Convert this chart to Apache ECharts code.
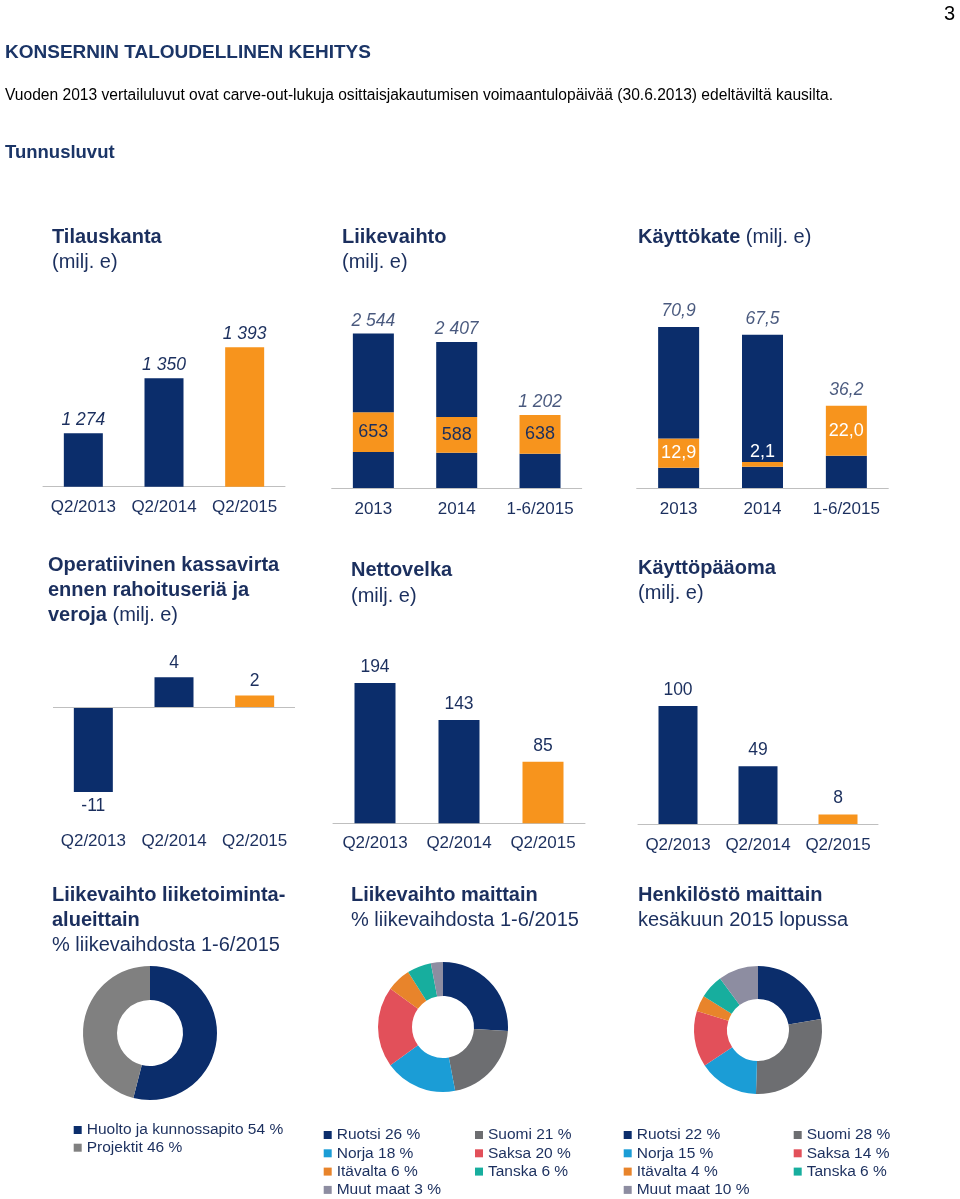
<!DOCTYPE html>
<html>
<head>
<meta charset="utf-8">
<script src="https://cdn.jsdelivr.net/npm/echarts@6/dist/echarts.min.js"></script>
<style>
  html, body { margin: 0; padding: 0; background: #fff; }
  #chart { width: 960px; height: 1199px; }
</style>
</head>
<body>
<div id="chart"></div>
<script>
// ---------- DATA ----------
const quarterCats = ['Q2/2013', 'Q2/2014', 'Q2/2015'];
const yearCats = ['2013', '2014', '1-6/2015'];

const tilauskanta = [1274, 1350, 1393];

const liikevaihtoTotal = [2544, 2407, 1202];
const liikevaihtoQ2 = [653, 588, 638];
const liikevaihtoQ1 = [595, 580, 564];

const kayttokateTotal = [70.9, 67.5, 36.2];
const kayttokateQ2 = [12.9, 2.1, 22.0];
const kayttokateQ1 = [8.9, 9.4, 14.2];

const kassavirta = [-11.1, 4.0, 1.6];
const nettovelka = [194, 143, 85];
const kayttopaaoma = [100, 49, 8];

const segNames = ['Huolto ja kunnossapito', 'Projektit'];
const segValues = [54, 46];

const countryNames = ['Ruotsi', 'Suomi', 'Norja', 'Saksa', 'Itävalta', 'Tanska', 'Muut maat'];
const salesByCountry = [26, 21, 18, 20, 6, 6, 3];
const staffByCountry = [22, 28, 15, 14, 4, 6, 10];

// ---------- STYLE ----------
const NAVY = '#0B2D6B';
const ORANGE = '#F7941D';
const TEXT = '#1B2F5E';
const AXIS = '#BFBFBF';
const FONT = "'Liberation Sans', Arial, Helvetica, sans-serif";
const countryColors = ['#0B2D6B', '#6D6E71', '#1B9DD6', '#E2505A', '#E8842B', '#17AE9E', '#8D8DA1'];
const segColors = ['#0B2D6B', '#808080'];

const fmtThousands = v => String(v).replace(/\B(?=(\d{3})+(?!\d))/g, ' ');
const fmtComma = v => v.toFixed(1).replace('.', ',');

// ---------- TITLES ----------
function T(text, left, cy, size, weight, color, lh, extra) {
  const t = {
    text: text, left: left, top: cy - lh / 2, padding: 0,
    textStyle: { fontFamily: FONT, fontSize: size, fontWeight: weight, color: color, lineHeight: lh }
  };
  if (extra) Object.assign(t.textStyle, extra);
  return t;
}
const richR = { rich: { r: { fontFamily: FONT, fontSize: 20, fontWeight: 'normal', color: TEXT, lineHeight: 25 } } };

const titles = [
  T('3', 944, 14, 20, 'normal', '#000', 24),
  T('KONSERNIN TALOUDELLINEN KEHITYS', 5, 53, 19, 'bold', '#1B3567', 22),
  T('Vuoden 2013 vertailuluvut ovat carve-out-lukuja osittaisjakautumisen voimaantulopäivää (30.6.2013) edeltäviltä kausilta.', 5, 96, 15.6, 'normal', '#000', 18),
  T('Tunnusluvut', 5, 153, 18.5, 'bold', '#1B3567', 22),

  T('Tilauskanta', 52, 237, 20, 'bold', TEXT, 25),
  T('(milj. e)', 52, 262, 20, 'normal', TEXT, 25),
  T('Liikevaihto', 342, 237, 20, 'bold', TEXT, 25),
  T('(milj. e)', 342, 262, 20, 'normal', TEXT, 25),
  T('Käyttökate {r|(milj. e)}', 638, 237, 20, 'bold', TEXT, 25, richR),

  T('Operatiivinen kassavirta\nennen rahoituseriä ja\nveroja {r|(milj. e)}', 48, 565, 20, 'bold', TEXT, 25, richR),
  T('Nettovelka', 351, 570, 20, 'bold', TEXT, 25),
  T('(milj. e)', 351, 596, 20, 'normal', TEXT, 25),
  T('Käyttöpääoma', 638, 568, 20, 'bold', TEXT, 25),
  T('(milj. e)', 638, 593, 20, 'normal', TEXT, 25),

  T('Liikevaihto liiketoiminta-\nalueittain', 52, 895, 20, 'bold', TEXT, 25),
  T('% liikevaihdosta 1-6/2015', 52, 945, 20, 'normal', TEXT, 25),
  T('Liikevaihto maittain', 351, 895, 20, 'bold', TEXT, 25),
  T('% liikevaihdosta 1-6/2015', 351, 920, 20, 'normal', TEXT, 25),
  T('Henkilöstö maittain', 638, 895, 20, 'bold', TEXT, 25),
  T('kesäkuun 2015 lopussa', 638, 920, 20, 'normal', TEXT, 25)
];

// ---------- GRIDS / AXES ----------
const grids = [
  { left: 43, top: 298.7, width: 242, height: 188 },
  { left: 331.7, top: 305.9, width: 250, height: 182.1 },
  { left: 636.7, top: 306.4, width: 251.6, height: 181.6 },
  { left: 53, top: 662.1, width: 242, height: 136.8 },
  { left: 333, top: 642.6, width: 252, height: 180.7 },
  { left: 638, top: 647, width: 240, height: 177 }
];
const yRanges = [[1200, 1460], [0, 3000], [0, 80], [-12, 6], [0, 250], [0, 150]];
const xCats = [quarterCats, yearCats, yearCats, quarterCats, quarterCats, quarterCats];
const xMargins = [12, 13, 13, 34, 11.5, 12.5];

const xAxes = xCats.map((cats, i) => ({
  type: 'category', gridIndex: i, data: cats,
  axisLine: { show: i !== 3, onZero: false, lineStyle: { color: AXIS, width: 1 } },
  axisTick: { show: false },
  axisLabel: { color: TEXT, fontSize: 17, fontFamily: FONT, margin: xMargins[i], interval: 0, hideOverlap: false }
}));
const yAxes = yRanges.map((r, i) => ({
  type: 'value', gridIndex: i, min: r[0], max: r[1], show: false,
  splitLine: { show: false }
}));

const colorLast = p => (p.dataIndex === 2 ? ORANGE : NAVY);
const italicLabel = (fmt, dist) => ({
  show: true, position: 'top', distance: dist, color: TEXT, fontSize: 17.5,
  fontStyle: 'italic', fontFamily: FONT, formatter: p => fmt(p.value)
});
const plainLabel = (fmt, dist) => ({
  show: true, position: 'top', distance: dist, color: TEXT, fontSize: 17.5,
  fontFamily: FONT, formatter: p => fmt(p.value)
});

const series = [];

// Chart 1: Tilauskanta
series.push({
  type: 'bar', xAxisIndex: 0, yAxisIndex: 0, barWidth: 39, data: tilauskanta,
  itemStyle: { color: colorLast }, label: italicLabel(fmtThousands, 4)
});

// Chart 2: Liikevaihto (stacked)
series.push({
  type: 'bar', xAxisIndex: 1, yAxisIndex: 1, barWidth: 41, stack: 'lv',
  data: liikevaihtoQ1, itemStyle: { color: NAVY }
});
series.push({
  type: 'bar', xAxisIndex: 1, yAxisIndex: 1, barWidth: 41, stack: 'lv',
  data: liikevaihtoQ2, itemStyle: { color: ORANGE },
  label: { show: true, position: 'inside', color: TEXT, fontSize: 18, fontFamily: FONT }
});
series.push({
  type: 'bar', xAxisIndex: 1, yAxisIndex: 1, barWidth: 41, stack: 'lv',
  data: liikevaihtoTotal.map((t, i) => t - liikevaihtoQ1[i] - liikevaihtoQ2[i]),
  itemStyle: { color: NAVY }
});
series.push({
  type: 'scatter', xAxisIndex: 1, yAxisIndex: 1, symbolSize: 1, data: liikevaihtoTotal,
  itemStyle: { color: 'rgba(0,0,0,0)' }, label: italicLabel(fmtThousands, 3)
});

// Chart 3: Käyttökate (stacked)
series.push({
  type: 'bar', xAxisIndex: 2, yAxisIndex: 2, barWidth: 41, stack: 'kk',
  data: kayttokateQ1, itemStyle: { color: NAVY }
});
series.push({
  type: 'bar', xAxisIndex: 2, yAxisIndex: 2, barWidth: 41, stack: 'kk',
  data: kayttokateQ2.map(v => ({
    value: v,
    label: v < 5 ? { position: 'top', distance: 1 } : { position: 'inside' }
  })),
  itemStyle: { color: ORANGE },
  label: { show: true, color: '#FFFFFF', fontSize: 18, fontFamily: FONT, formatter: p => fmtComma(p.value) }
});
series.push({
  type: 'bar', xAxisIndex: 2, yAxisIndex: 2, barWidth: 41, stack: 'kk',
  data: kayttokateTotal.map((t, i) => +(t - kayttokateQ1[i] - kayttokateQ2[i]).toFixed(1)),
  itemStyle: { color: NAVY }
});
series.push({
  type: 'scatter', xAxisIndex: 2, yAxisIndex: 2, symbolSize: 1, data: kayttokateTotal,
  itemStyle: { color: 'rgba(0,0,0,0)' }, label: italicLabel(fmtComma, 6)
});

// Chart 4: Operatiivinen kassavirta
series.push({
  type: 'bar', xAxisIndex: 3, yAxisIndex: 3, barWidth: 39,
  data: kassavirta.map(v => ({ value: v, label: { position: v < 0 ? 'bottom' : 'top' } })),
  itemStyle: { color: colorLast },
  label: { show: true, distance: 5, color: TEXT, fontSize: 17.5, fontFamily: FONT, formatter: p => String(Math.round(p.value)) },
  markLine: {
    silent: true, symbol: 'none', label: { show: false }, animation: false,
    lineStyle: { color: AXIS, type: 'solid', width: 1 },
    data: [{ yAxis: 0 }]
  }
});

// Chart 5: Nettovelka
series.push({
  type: 'bar', xAxisIndex: 4, yAxisIndex: 4, barWidth: 41, data: nettovelka,
  itemStyle: { color: colorLast }, label: plainLabel(v => String(v), 7)
});

// Chart 6: Käyttöpääoma
series.push({
  type: 'bar', xAxisIndex: 5, yAxisIndex: 5, barWidth: 39, data: kayttopaaoma,
  itemStyle: { color: colorLast }, label: plainLabel(v => String(v), 7)
});

// Pies
function pie(names, values, colors, center, radius, id) {
  return {
    type: 'pie', center: center, radius: radius, startAngle: 90, clockwise: true,
    label: { show: false }, labelLine: { show: false }, silent: true,
    data: names.map((n, i) => ({ name: id + n, value: values[i], itemStyle: { color: colors[i] } }))
  };
}
series.push(pie(segNames, segValues, segColors, [150, 1033], [33, 67], 'a:'));
series.push(pie(countryNames, salesByCountry, countryColors, [443, 1027], [31, 65], 'b:'));
series.push(pie(countryNames, staffByCountry, countryColors, [758, 1030], [31, 64], 'c:'));

// Legends
function legend(prefix, names, values, idxs, left, top, gap) {
  return {
    orient: 'vertical', left: left, top: top, padding: 0, itemGap: gap,
    itemWidth: 8, itemHeight: 8, icon: 'rect', selectedMode: false,
    data: idxs.map(i => prefix + names[i]),
    formatter: name => {
      const n = name.slice(prefix.length);
      return n + ' ' + values[names.indexOf(n)] + ' %';
    },
    textStyle: { color: TEXT, fontSize: 15.5, fontFamily: FONT, lineHeight: 18 }
  };
}
const legends = [
  legend('a:', segNames, segValues, [0, 1], 73.7, 1121, -0.3),
  legend('b:', countryNames, salesByCountry, [0, 2, 4, 6], 323.7, 1126, 0.3),
  legend('b:', countryNames, salesByCountry, [1, 3, 5], 475, 1126, 0.3),
  legend('c:', countryNames, staffByCountry, [0, 2, 4, 6], 623.7, 1126, 0.3),
  legend('c:', countryNames, staffByCountry, [1, 3, 5], 793.7, 1126, 0.3)
];

const chart = echarts.init(document.getElementById('chart'), null, { renderer: 'canvas' });
chart.setOption({
  animation: false,
  backgroundColor: '#FFFFFF',
  textStyle: { fontFamily: FONT },
  title: titles,
  grid: grids,
  xAxis: xAxes,
  yAxis: yAxes,
  legend: legends,
  series: series
});
</script>
</body>
</html>
